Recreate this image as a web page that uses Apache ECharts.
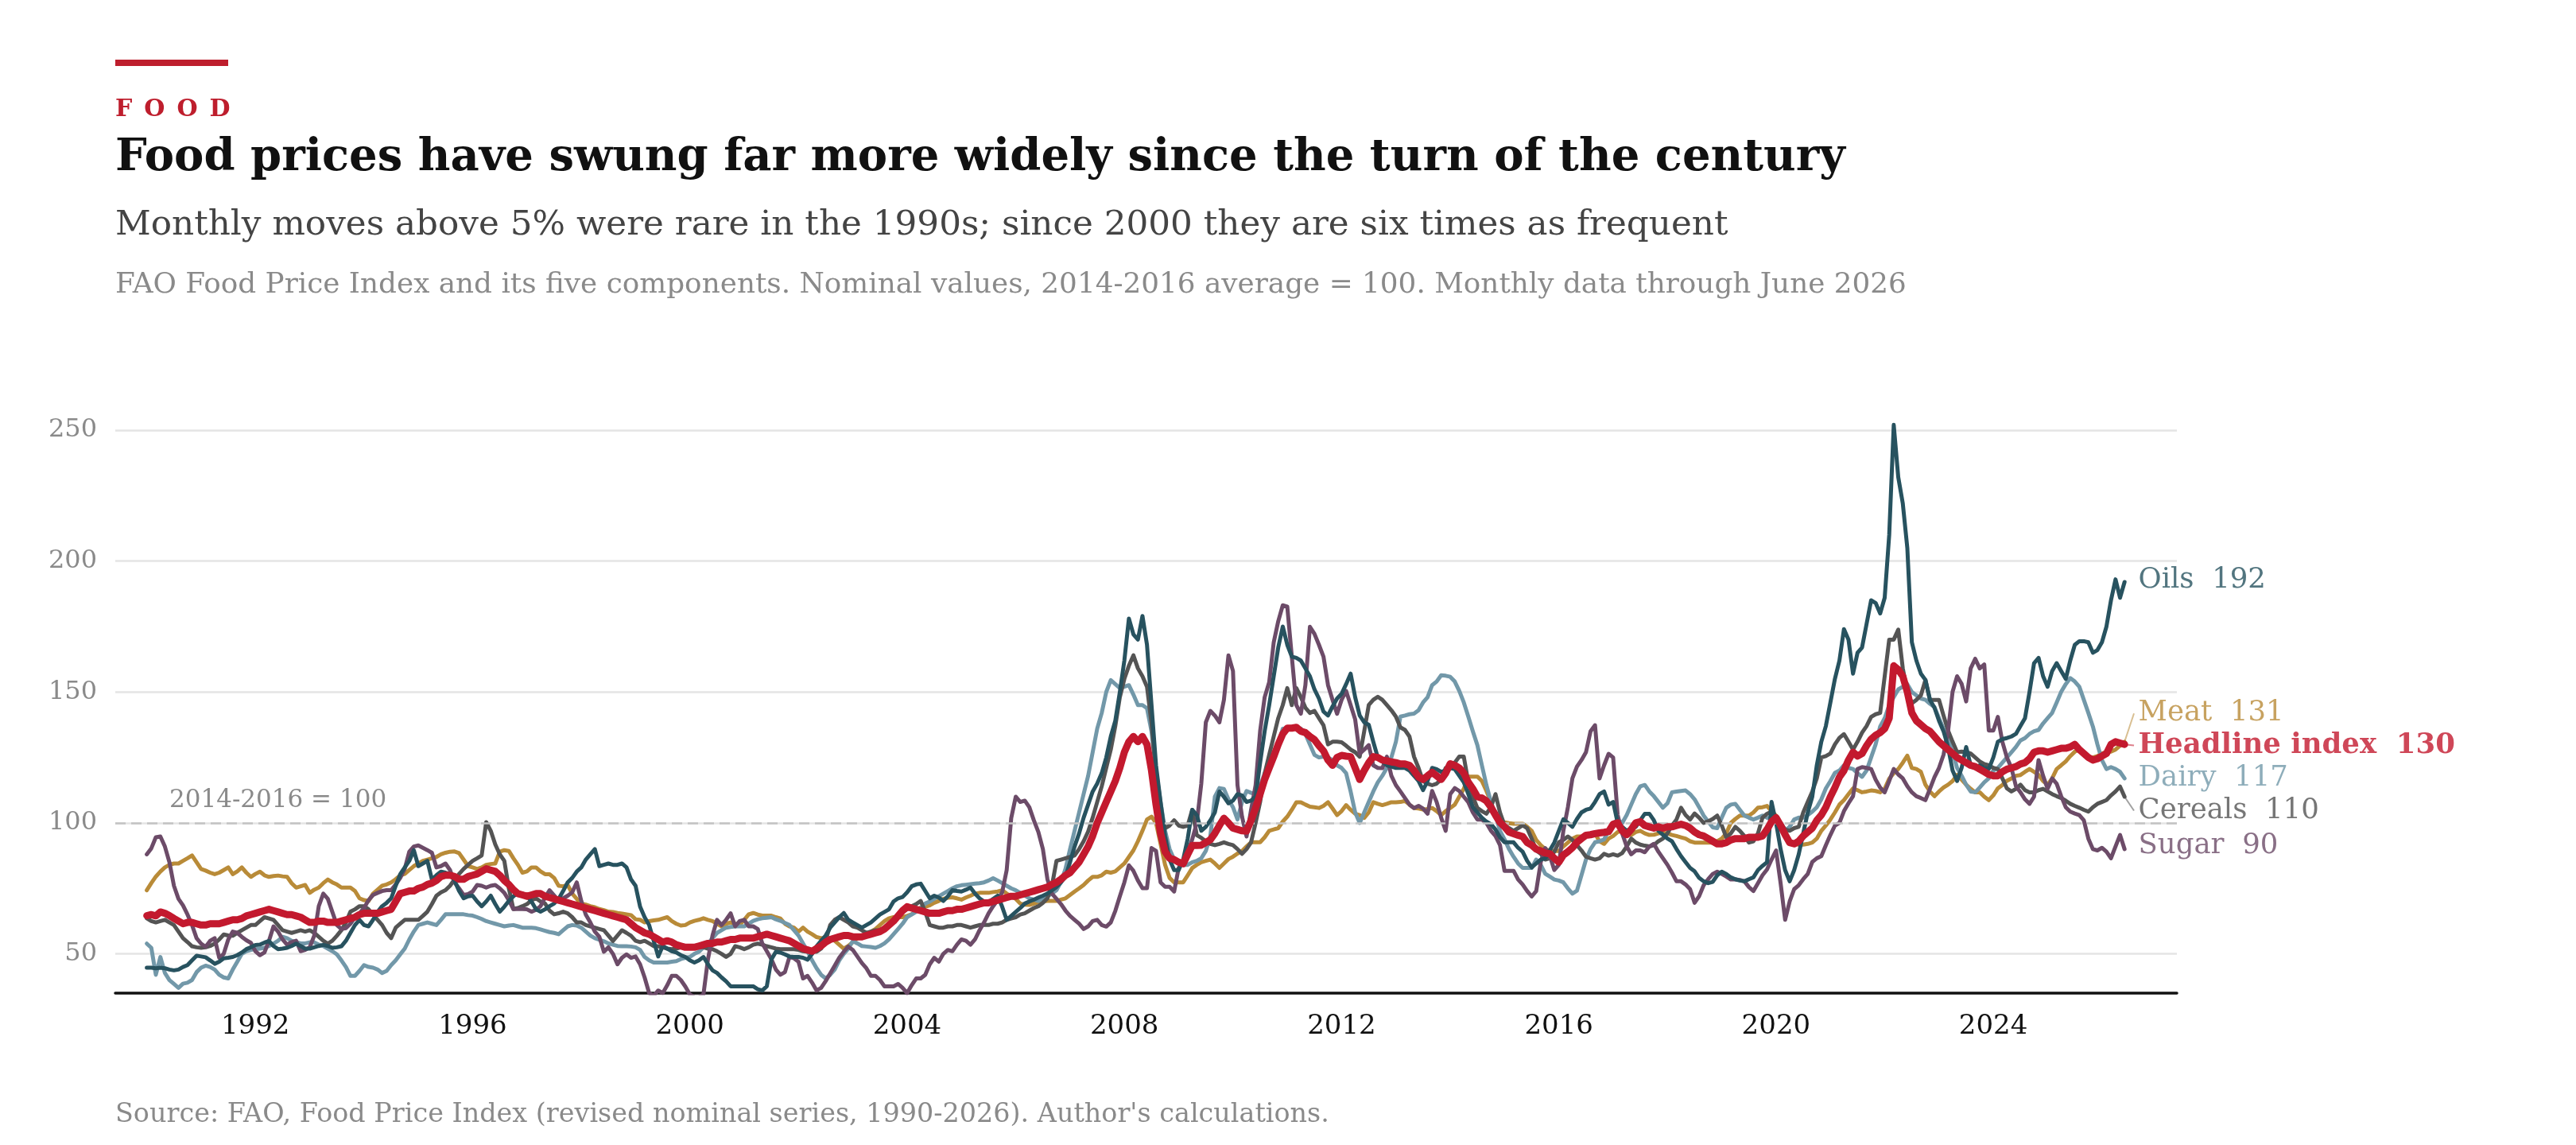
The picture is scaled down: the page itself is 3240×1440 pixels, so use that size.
<!DOCTYPE html>
<html>
<head>
<meta charset="utf-8">
<title>Food prices</title>
<script src="https://cdn.jsdelivr.net/npm/echarts@6.0.0/dist/echarts.min.js"></script>
<style>
  html, body { margin: 0; padding: 0; background: #fff; }
  #chart { width: 3240px; height: 1440px; }
</style>
</head>
<body>
<div id="chart"></div>
<script>
// monthly values, January 1990 to June 2026 (2014-2016 = 100)
const startYear = 1990;
const yearTicks = [1992, 1996, 2000, 2004, 2008, 2012, 2016, 2020, 2024];
const yTicks = [50, 100, 150, 200, 250];

const headline = [
  64.6, 65, 64.5, 66, 65.5, 64.6, 63.5, 62.5, 61.5, 62, 62, 61.5,
  61, 61, 61.5, 61.5, 61.5, 62, 62.5, 63, 63, 63.5, 64.5, 65,
  65.5, 66, 66.5, 67, 66.5, 66, 65.5, 65, 65, 64.5, 64, 63,
  62, 62, 62.5, 62.5, 62, 62, 62, 62.5, 63, 63.5, 64, 65,
  65.5, 65.5, 65.5, 65.5, 66, 66.5, 67, 70, 73, 73.5, 74, 74,
  75, 75.5, 76.5, 77, 78, 79.5, 80, 80, 79.5, 78.5, 78.5, 79.5,
  80, 80.5, 81.5, 82.5, 82, 81.5, 80, 78, 76.5, 74.5, 73, 72.5,
  72, 72.5, 73, 73, 72, 71.5, 71, 70.5, 70, 69.5, 69, 68.5,
  68, 67.5, 67, 66.5, 66, 65.5, 65, 64.5, 64, 63.5, 63, 61.5,
  60, 59, 58, 57.5, 56.5, 55.5, 54.5, 55, 54.5, 53.5, 53, 52.5,
  52.5, 52.5, 53, 53.5, 54, 54, 54.5, 54.5, 55, 55.5, 55.5, 56,
  56, 56, 56, 56.5, 57, 57.5, 57, 56.5, 56, 55.5, 55, 54,
  53, 52, 51.5, 51, 52, 53, 54.5, 55.5, 56, 56.5, 57, 57,
  56.5, 56.5, 56.5, 57, 57.5, 58, 58.5, 59.5, 61, 62.5, 64.5, 66.5,
  68, 67.5, 67, 66.5, 66, 65.5, 65.5, 65.5, 66, 66.5, 66.5, 67,
  67, 67.5, 68, 68.5, 69, 69.5, 69.5, 70, 70.5, 71, 71.5, 72,
  72, 72.5, 73, 73.5, 74, 74.5, 75, 75.5, 76.5, 77.3, 78.5, 80,
  81, 83, 85, 88, 91, 95, 100, 104, 108, 112, 116, 121,
  127, 131, 133, 131, 133, 130, 120, 107, 96, 89, 86.5, 86,
  85, 84.4, 88, 91.4, 91.4, 91.5, 92.5, 93.6, 96, 99, 101.8, 100,
  98, 97.5, 97, 96.9, 101, 105.7, 111, 116.6, 121, 125.3, 130, 134,
  136.2, 136.2, 136.5, 135, 134.5, 133, 131.8, 129.5, 127.5, 124, 122, 125,
  125.8, 125.5, 125.3, 121, 116.6, 120, 123, 125.3, 125, 124, 123.7, 123.3,
  123, 122.5, 122.5, 122, 120, 117.5, 116.6, 118, 119.3, 118, 116.6, 119,
  122.6, 122, 121, 119, 115.5, 113, 110, 109.5, 108.4, 106, 103, 100.2,
  98.5, 96.5, 95.9, 95.3, 94.8, 92.5, 91.5, 90, 89.3, 88.5, 88.2, 86.5,
  85, 87.7, 89, 90.5, 92.6, 94, 95.3, 95.5, 95.9, 96.2, 96.4, 96.7,
  99.5, 100, 97, 95.5, 97.5, 100, 100.5, 99, 98.5, 98, 98.5, 98,
  98.5, 98.5, 99, 99.5, 99, 98, 96.5, 95.5, 95, 94, 93, 92,
  92, 92.5, 93.5, 94, 94, 94, 94.5, 94.5, 94.5, 95, 97.5, 100.5,
  102, 99, 95.5, 92.5, 92, 93, 95, 96.5, 98, 101, 103, 106,
  110, 113.5, 117.5, 120, 124, 127, 125.5, 126.5, 129.5, 132, 133.5, 134.5,
  136, 140, 160, 158.5, 156, 150, 142, 139, 137.5, 136, 135, 133,
  131, 129.5, 128, 126.5, 125, 124, 123, 122, 121.5, 120.5, 119.5, 118.5,
  118, 118, 119.5, 120.5, 121, 121.5, 122.5, 123, 124.5, 127, 127.5, 127.5,
  127, 127.5, 128, 128.5, 128.5, 129, 130, 128, 126.5, 125, 124, 124.5,
  125.5, 126.5, 130, 131, 130.5, 130
];

const oils = [
  44.7, 44.7, 44.5, 44.7, 44.5, 44, 43.7, 44, 45, 45.7, 47.5, 49.3,
  49, 48.7, 47.5, 46.2, 47, 48.3, 48.5, 48.8, 49.5, 50.5, 51.8, 52.5,
  53.4, 53.5, 54.3, 54.9, 53, 51.8, 52, 52.3, 53, 53.9, 53, 52,
  52, 52.5, 53, 53.4, 53, 52.3, 52.5, 52.9, 55, 58, 61, 63,
  61, 60.5, 63, 66, 68.2, 69.5, 71.2, 76, 80.4, 83, 85.5, 89.6,
  83.5, 84.5, 85.5, 78.4, 80, 81.4, 81, 80.4, 78, 74, 71.2, 72,
  72.2, 70, 68.2, 70, 72.2, 69, 66.1, 68, 70.2, 72, 73.3, 73,
  72.2, 70, 67, 66.1, 67, 68.2, 69.2, 71, 74, 77.3, 79, 81.4,
  83, 86, 88, 90, 83.5, 84, 84.5, 84, 84, 84.5, 83, 78.4,
  76, 68, 64, 61, 55, 49, 53, 52, 51, 50.5, 49.5, 48.8,
  47.5, 46.7, 47.5, 48.8, 46, 43.7, 42.7, 41, 39.5, 37.6, 37.6, 37.6,
  37.6, 37.6, 37.6, 36.5, 36, 37.6, 47.8, 50.8, 50.5, 49.8, 49, 48.8,
  48.8, 48.5, 47.8, 50, 52.9, 55, 57, 60, 62, 64, 65.6, 63,
  62, 61, 60, 61, 62, 63.5, 65, 66, 67, 70, 71.2, 71.7,
  73.5, 75.8, 76.5, 76.8, 74, 71.2, 72.2, 71.5, 70.2, 72, 74.3, 74,
  73.8, 74.5, 75.3, 73, 71.2, 70, 69.7, 71, 72.2, 68, 63, 64.5,
  66, 67.5, 69.2, 70, 70.7, 71.5, 72.2, 73, 74.3, 75.5, 77.3, 79.5,
  85, 91, 96, 102, 107, 112, 115, 119, 125, 133, 139, 150,
  162, 178, 172, 170, 179, 168, 145, 122, 108, 95, 86, 82,
  82, 86, 94, 105, 103, 97, 98.5, 101, 104, 112, 110, 107.5,
  108.5, 111, 110.5, 108, 108.5, 110, 123, 135, 145, 156, 167, 175,
  168, 163.5, 163, 162, 159, 156, 151, 147.5, 142.5, 141, 144.5, 147.5,
  149.3, 153, 157, 148, 141, 138.4, 137.5, 131, 125, 123.5, 122, 121.5,
  121, 121, 121, 120, 118, 116, 112.5, 116, 121, 120.5, 119.5, 120,
  121, 120.5, 118, 115.5, 111, 106, 104, 102, 100.5, 99.5, 97.5, 94.5,
  92.6, 92.6, 92.6, 90.5, 89, 85.5, 83, 84.5, 86, 86.5, 89.5, 92.5,
  97, 101.4, 100, 98.5, 101.5, 104, 105, 105.5, 108, 111, 112, 107,
  108, 100, 98.5, 97, 98, 98.5, 101, 103.5, 103.5, 101, 97, 95.5,
  94, 93, 90, 87.3, 85, 82.8, 81.5, 79, 77.7, 77, 77.5, 80,
  81.4, 80.5, 79.2, 78.5, 78, 77.7, 78.5, 79.2, 82, 83.6, 85, 108,
  100, 90, 82, 77.7, 82, 88, 96, 104, 110, 122, 131, 137,
  146, 155, 162, 174, 170, 157, 165, 167, 176, 185, 184, 180,
  186, 210, 252, 232, 222, 205, 169, 162, 157, 154.6, 147, 144,
  139, 135, 129, 120, 116, 121, 129, 122, 121, 122, 121, 120.6,
  125, 131, 132, 132.4, 133, 134, 137, 140, 150, 161, 163, 156,
  152, 158, 161, 158, 155, 162, 168, 169.4, 169.4, 169, 165, 166,
  169, 175, 185, 193, 186, 192
];

const cereals = [
  63.6, 62.5, 62, 62.5, 63, 62, 61, 58.5, 56, 54.5, 52.9, 52.5,
  52.3, 52.5, 53, 53.9, 55.5, 57.4, 57, 56.9, 58, 59, 60, 61,
  61, 62.5, 64, 63.5, 63, 61, 59, 58.5, 58, 58.5, 59, 58.5,
  59, 58, 56.5, 55, 53.9, 55, 56.9, 59, 62, 66.1, 67, 68.2,
  68.2, 67, 65.1, 63, 61, 58, 56, 60, 61.5, 63, 63, 63,
  63, 64.5, 66.1, 69, 72.2, 73.5, 74.3, 76, 78.4, 80.5, 82.4, 84,
  85.5, 86.5, 87.6, 100.3, 97, 91.8, 88, 85.5, 75, 67.1, 67.5, 68.2,
  69, 70.5, 71.2, 70, 69.2, 66.5, 65.1, 65.5, 66.1, 65.5, 64, 62,
  62, 61, 60.5, 60, 59.5, 59, 57, 54.9, 57, 59, 58, 56.9,
  55, 54.5, 55, 54, 53, 52.9, 52.5, 52, 51.8, 52, 52.5, 52.9,
  52.9, 52.9, 52.5, 52.5, 52, 51.8, 51, 50, 48.8, 50, 52.9, 52.5,
  51.8, 52.5, 53.5, 53.9, 53.5, 52.9, 52.5, 52, 51.8, 51.8, 51.8, 51.8,
  51.5, 51, 50.8, 50.8, 50.8, 52, 55, 61, 63, 64, 63, 62,
  60.5, 60, 59, 58, 58.5, 59, 59, 60, 61, 62.5, 64, 66,
  67.1, 68.2, 69, 70.2, 66, 61, 60.5, 60, 60, 60.5, 60.5, 61,
  61, 60.5, 60, 60.5, 61, 61, 61, 61.5, 61.5, 62, 63, 63.5,
  64, 65, 65.5, 66.5, 67.5, 68.2, 69.5, 71.2, 76, 85.5, 86, 86.5,
  87, 87.6, 90, 93, 96.7, 102, 108, 114, 121, 128, 137, 148,
  155, 160, 164, 159, 156, 152, 138, 118, 103, 98, 99, 101,
  99, 98.5, 99, 105, 95.3, 94.3, 93, 92, 91.5, 92, 92.6, 92,
  91.5, 90, 88.2, 90, 92.6, 100, 108, 118.8, 126, 133, 140, 145,
  151.5, 145, 151.5, 148, 144, 142, 142.8, 140, 137.3, 130, 131, 131,
  130.8, 129.5, 128, 127, 125.3, 135, 145, 147, 148.2, 147, 145, 143,
  140.6, 136.5, 135.5, 133, 125.3, 121, 116, 115, 114.4, 115, 116.6, 121,
  121, 123, 125.3, 125.3, 115.5, 110, 105.7, 104.5, 103.5, 106, 111, 104,
  99.1, 98, 97, 98, 99.1, 98, 94, 89.5, 88.2, 86, 86.5, 89,
  92.6, 93.5, 94.8, 93.5, 91.5, 89.5, 87.1, 86.5, 86, 86.5, 88.2, 87.5,
  88, 87.5, 88.5, 91, 94, 92.5, 91.7, 91.3, 91, 91.5, 93, 94,
  96, 99, 101.3, 105.8, 103, 101.3, 103.6, 102, 100, 100.6, 101.5, 102.8,
  99, 94.5, 96, 98.5, 97, 95, 92.5, 93, 96, 102, 103.5, 104.3,
  102, 100, 97.5, 97, 98, 98.5, 104, 108, 112, 117, 125, 125.5,
  126.5, 130, 132.5, 133.9, 131, 128, 131, 134.5, 137, 140.5, 141.5, 142,
  156, 170, 170, 173.8, 159, 150, 145.7, 147, 148.7, 154.6, 147, 147,
  147, 141, 135.3, 131, 127, 127.2, 127, 126.5, 125, 123.5, 122.5, 122,
  121, 120.6, 117, 113.2, 112, 113, 114.6, 112.5, 111.7, 111.7, 112.5, 113,
  112, 111, 110.2, 109.5, 108.5, 107.3, 106.5, 105.8, 105, 104.3, 106, 107.3,
  108, 108.7, 110.5, 112, 113.9, 110
];

const dairy = [
  53.9, 52.3, 42, 48.8, 42.7, 40, 38.5, 37, 38.6, 39, 40, 43,
  44.7, 45.5, 45, 44, 42, 41, 40.6, 44, 47, 50, 51, 51.5,
  51.8, 52, 52.3, 53, 53.9, 55, 56.5, 56, 55, 54.5, 54, 54,
  54.4, 54.4, 53.5, 53, 52, 51, 49.8, 47.5, 45, 41.6, 41.6, 43.5,
  45.7, 45, 44.7, 44, 42.7, 43.5, 45.7, 47.5, 49.8, 52, 55.5, 58.5,
  61, 61.5, 62, 61.5, 61, 63, 65.1, 65.1, 65.1, 65.1, 65.1, 64.8,
  64.6, 64, 63.3, 62.5, 62, 61.5, 61, 60.5, 60.8, 61, 60.5, 60,
  60, 60, 59.8, 59.3, 58.8, 58.3, 58, 57.5, 59, 60.5, 61, 60.8,
  60, 58.5, 57, 56, 55.4, 54.8, 54, 53.5, 53, 52.9, 52.9, 52.8,
  52.5, 51.5, 48.8, 47.5, 46.7, 46.7, 46.7, 46.7, 47, 47.2, 48, 48.5,
  48.8, 50, 50.8, 52.5, 53.9, 56, 58, 59, 60, 60.3, 60.5, 60.5,
  60.5, 61.5, 62.6, 63.2, 63.6, 63.8, 64, 63.2, 62.6, 61.8, 61, 59,
  57, 54, 51, 47.5, 44.5, 42, 40.6, 42, 44, 47.5, 50, 52,
  54.9, 54, 53, 52.8, 52.6, 52.3, 53, 54, 55.5, 57.5, 59.5, 61.5,
  64, 65, 66.1, 67.5, 69.2, 70, 71, 72, 73, 74, 75, 75.8,
  76.2, 76.4, 76.6, 76.8, 77, 77.3, 78, 78.9, 78, 77, 76, 75,
  74.3, 73.3, 72.3, 71.2, 70.7, 70.2, 71, 72, 73, 74.3, 77.5, 82.5,
  90, 97, 104, 111, 118, 127, 136, 142, 150, 154.5, 153, 151.5,
  152, 152.6, 149, 145, 145, 143.8, 135, 120, 108, 97, 90, 86,
  84.4, 84, 84, 85, 85.5, 86.5, 89.3, 95, 110, 113.3, 113, 109,
  106, 101.3, 108, 112.2, 111.5, 111, 114, 119, 122, 125, 130, 136,
  136.2, 136.5, 136, 136, 134, 130, 126, 125, 125.3, 125, 124, 122,
  121, 119, 112, 104, 100, 104, 108, 112, 115.5, 118, 121, 125,
  131, 140.6, 141, 141.5, 141.7, 143, 146, 148, 152.6, 154, 156.4, 156.2,
  155.8, 154, 150.4, 146, 140.6, 135, 129.7, 122, 114.4, 108, 103, 97,
  93.7, 90, 87.1, 84.5, 82.8, 82.8, 82.8, 86, 84, 80.6, 79.5, 78.4,
  78, 77.3, 75, 73, 74.1, 80, 86, 90, 92.6, 93, 93.7, 97,
  100, 101, 100, 103, 107, 111, 114, 114.5, 112, 110.2, 108, 105.8,
  107.5, 111.7, 112, 112.2, 112.4, 111, 109, 106, 102.8, 100.5, 98.3, 98,
  102, 105.8, 107, 107.3, 105, 102.8, 102, 101.3, 102, 102.8, 102, 101.3,
  101.3, 99.5, 97, 98.5, 101.3, 102, 102, 103, 104.3, 106, 109, 113.2,
  116, 119.1, 120, 122, 121, 120.6, 119, 117.6, 120, 125, 130, 136.8,
  140, 145, 148, 151, 152, 153, 150, 148.7, 147.5, 147, 145.5, 144.2,
  140, 136, 132, 127, 121, 118, 114.6, 112, 111.7, 113.5, 115.5, 117,
  120, 121, 123, 125, 127, 129, 131.5, 132.4, 134, 135, 135.5, 138,
  140, 142, 146, 150.1, 153, 155.3, 154, 152, 147, 142, 136.8, 130,
  124, 120.6, 121.3, 120.6, 119.5, 117
];

const meat = [
  74.3, 77, 79.5, 81.4, 83, 84, 84.5, 84.5, 85.5, 86.5, 87.6, 85,
  82.4, 81.8, 81, 80.4, 81, 82, 83, 80.4, 81.5, 83, 81, 79.4,
  80.5, 81.4, 80, 79.4, 79.7, 79.9, 79.6, 79.4, 77, 75.3, 75.8, 76.3,
  73.3, 74.5, 75.3, 77, 78.4, 77.3, 76.5, 75.3, 75.3, 75.3, 74, 71.2,
  70.5, 70.2, 73, 74.5, 76, 76.5, 77.3, 78.5, 80, 80.5, 82, 83.5,
  84.5, 85.5, 86, 86.5, 87, 88, 88.6, 89, 89.1, 88.5, 86, 83.5,
  83, 82.4, 83, 84, 84.3, 84.5, 89, 89.6, 89.3, 86.5, 84, 81,
  81.5, 83, 83, 81.5, 80.4, 80.4, 79, 76, 75.8, 76.3, 73, 71,
  69.2, 68.8, 68.2, 67.8, 67.1, 66.7, 66.1, 66, 65.6, 65.4, 65.1, 64.8,
  63.2, 63, 62, 62.5, 62.8, 63, 63.5, 64, 62.5, 61.5, 60.8, 61,
  62, 62.6, 63, 63.6, 63, 62.5, 61.5, 60.5, 61.5, 62, 61.5, 61,
  63, 65.1, 65.6, 65, 64.6, 64.6, 64.6, 64, 63.5, 61.5, 60.5, 60,
  58.5, 60, 58.5, 57.5, 56.4, 56, 55.9, 55.9, 55, 53.5, 52, 53,
  54.5, 55.9, 56.5, 57.5, 58.5, 59.5, 61, 62.5, 63.6, 64, 64, 64,
  64.5, 65.1, 66.5, 67.7, 68, 68.5, 69.5, 70.2, 71, 71.4, 71.6, 71.2,
  70.7, 71.5, 72.2, 73, 73.3, 73.3, 73.3, 73.6, 73.8, 74.3, 73, 72,
  71, 69.2, 68.8, 68.7, 69.2, 69.7, 70, 70.2, 70.2, 70.2, 70.7, 71.2,
  72.5, 73.8, 75, 76.3, 78, 79.4, 79.4, 80, 81.4, 81, 81.5, 83,
  84.5, 87, 89.5, 93, 97, 101.3, 102.4, 100, 92, 84, 79, 77.3,
  77.3, 77.3, 80, 82.8, 84, 85, 85.5, 86, 84.5, 82.8, 84.5, 86.2,
  87.1, 88.3, 89.3, 91, 92.6, 92.6, 92.6, 94.5, 97, 97.5, 98, 100.5,
  102.4, 105, 107.9, 107.9, 107, 106.2, 106, 105.7, 106.5, 107.9, 105.5, 103,
  104.5, 106.8, 105, 103.5, 103, 101.9, 104, 107.9, 107.3, 106.8, 107.3, 107.9,
  107.9, 108, 108.4, 107, 105.7, 105.5, 105.1, 105.3, 105.7, 104.5, 103, 104.5,
  105.7, 107, 110, 113, 117.7, 117.7, 117.7, 116, 112.2, 108, 102.4, 101,
  100.2, 99.9, 99.7, 99.7, 99.7, 98.5, 97, 93.5, 91.5, 90, 89.3, 89.3,
  89.3, 91, 92.5, 94, 94.8, 94.8, 95, 95.5, 95.9, 93, 92, 94,
  95, 96.5, 97, 96, 95.4, 96.5, 97, 96, 95.4, 95.5, 96, 96.2,
  96, 95.4, 95, 94.5, 94, 93, 92.5, 92.5, 92.5, 92.5, 92.5, 93,
  94, 96, 100, 101.5, 102.8, 102.8, 102.8, 104, 105.8, 106, 106.5, 104.5,
  102.8, 100, 97, 93, 92, 91.7, 91.7, 92, 92.5, 94, 97, 99,
  101.3, 104, 107, 108.7, 111, 113.2, 112.5, 111.7, 112, 112.4, 112.2, 111.7,
  113, 116.9, 119, 120.6, 123, 125.7, 121, 120.6, 119.5, 114.6, 112, 110.2,
  112, 113.5, 114.6, 116, 118.3, 116.5, 114.6, 113, 111.7, 111.7, 110, 108.7,
  110.5, 113.2, 114.5, 116.1, 117, 118, 118.3, 119.5, 120.6, 119.5, 118.3, 116,
  114.6, 117, 120.6, 122, 123.5, 125.5, 127.2, 128, 126.5, 125, 125, 125.5,
  126.5, 127, 127.2, 128, 129.5, 131
];

const sugar = [
  88, 90.3, 94.5, 94.8, 91, 85, 76, 71, 68.5, 65, 61, 56,
  53.9, 52.7, 55, 56, 48.5, 50, 55.5, 58.5, 58, 56.5, 55.2, 54.2,
  51, 49.5, 50.5, 55, 60.5, 58.5, 55.5, 53.5, 54.5, 55, 51, 51.5,
  52.5, 57, 68.2, 73, 71, 66, 61, 59.5, 59.8, 61.5, 64, 65.5,
  67.5, 70.5, 72.5, 73.3, 74, 74.3, 74.3, 76.5, 79, 82.5, 89, 91,
  91.4, 90.5, 89.6, 88.6, 83, 83.5, 84.5, 82, 77.3, 75, 72.5, 72.8,
  73.8, 76.3, 76, 75.3, 76, 76.3, 75, 73.3, 70.5, 67.1, 67.1, 67.1,
  67, 66.1, 66.8, 68.2, 71.5, 74.3, 72.3, 70.2, 71.2, 72.2, 73.5, 77.3,
  70.2, 65, 62, 58.5, 56.5, 50.8, 52.5, 50, 46, 48.5, 49.8, 48.5,
  49, 46, 41, 35, 34, 36, 35, 38, 41.6, 41.6, 40, 37.5,
  34.5, 33.5, 33.5, 34.5, 48, 57, 63, 61, 63, 65.5, 60.5, 62.5,
  63, 60.5, 60.5, 59.5, 54, 51, 48, 44, 42, 43, 48.8, 48.3,
  47, 40.6, 41.6, 39, 36, 37, 39.6, 42.5, 45.5, 48.5, 50.8, 52.8,
  51.5, 49, 46.5, 44.5, 41.6, 41.6, 40, 37.6, 37.6, 37.6, 38.5, 37,
  35, 38, 40.6, 40.6, 42, 46, 48.5, 47, 50, 51.5, 51, 53.5,
  55.5, 55, 53.5, 55.5, 59, 62, 65.5, 68.2, 70.5, 73.5, 82, 101.8,
  110, 108, 108.5, 106, 101, 96.5, 90, 78.5, 73, 71, 69, 66.5,
  64.5, 63, 61.5, 59.5, 60.5, 62.5, 63, 61, 60.4, 62, 66.4, 72,
  77.3, 83.8, 81.7, 78, 75.1, 75.1, 90.4, 89.3, 77.3, 75.6, 75.6, 73.8,
  82.8, 85, 89, 93.7, 100, 115, 138.4, 142.8, 141, 138.4, 147, 164,
  158, 114.4, 102.4, 94.8, 105, 114.4, 135.1, 148, 153.7, 168.9, 177, 183.1,
  182.6, 163.5, 145, 141.7, 152.6, 174.9, 172.2, 168, 163.5, 152.6, 147, 141.7,
  147, 150.4, 145, 139.5, 126.4, 128, 129.7, 122, 121, 120.9, 125.3, 118,
  114.4, 112, 109.5, 107, 105.7, 106.5, 105.5, 103.5, 112.2, 108, 102, 97,
  111, 113.3, 112.2, 110, 107.9, 104, 101.3, 101.3, 100, 97, 95, 91.5,
  81.7, 81.7, 81.7, 78.4, 76.5, 74, 71.9, 74, 85, 90.4, 87.5, 82,
  84, 97, 106, 117, 121.5, 124, 127, 135, 137.3, 117, 122, 126.4,
  125, 103, 96, 91, 88, 89.5, 89.5, 88.8, 91, 92, 89, 86.5,
  84, 81, 77.7, 77.7, 76.5, 74.7, 69.5, 72, 76.2, 78.5, 80.5, 81.4,
  80.5, 79.5, 78.4, 78.4, 78.2, 77.7, 75.5, 74, 77, 80, 82.2, 86,
  89.5, 77, 63, 70, 74.7, 76.2, 78.5, 80.5, 85.1, 86.5, 87.3, 91.5,
  95.4, 99, 100, 104.5, 107.5, 110.2, 120.6, 121.3, 121, 120.6, 116.5, 113.5,
  111.7, 116, 120.6, 118.5, 117, 114, 111.7, 110.2, 109.5, 108.7, 113, 117.5,
  121, 126, 135, 150.1, 156, 153.1, 146.4, 159, 162.7, 159, 160.5, 135.3,
  135.3, 140.5, 131, 125, 121, 114, 111.7, 109, 107.3, 110, 124, 118,
  113, 117, 115, 110.2, 106, 104.3, 103.6, 103, 101, 94, 90, 89.5,
  90.5, 89, 86.5, 91, 95.4, 90
];

// drawing order: first is at the bottom
const seriesList = [
  { name: 'Meat', values: meat, color: '#b98b38', width: 5 },
  { name: 'Dairy', values: dairy, color: '#7298a9', width: 5 },
  { name: 'Cereals', values: cereals, color: '#545454', width: 5 },
  { name: 'Sugar', values: sugar, color: '#6c4b68', width: 5 },
  { name: 'Oils', values: oils, color: '#27525f', width: 5 },
  { name: 'Headline index', values: headline, color: '#c3192e', width: 9, bold: true }
];

// where each end label sits (index points) and whether it gets a leader line
const labelSpot = {
  'Oils': [192.6, false],
  'Meat': [141.8, true],
  'Headline index': [129.6, true],
  'Dairy': [117.2, false],
  'Cereals': [104.7, true],
  'Sugar': [91.3, false]
};
const labelX = 2026.59;

const FONT = '"DejaVu Serif", serif';

function toPoints(values) {
  return values.map(function (v, i) { return [startYear + i / 12, v]; });
}

const series = [];
seriesList.forEach(function (s, idx) {
  const line = {
    name: s.name,
    type: 'line',
    data: toPoints(s.values),
    showSymbol: false,
    z: idx === seriesList.length - 1 ? 5 : 3,
    lineStyle: { color: s.color, width: s.width, join: 'round', cap: 'round' },
    itemStyle: { color: s.color },
    silent: true
  };
  if (idx === 0) {
    line.markLine = {
      silent: true,
      symbol: ['none', 'none'],
      lineStyle: { color: '#c4c4c4', width: 2.5, type: [13, 7] },
      label: {
        show: true,
        position: 'insideStartTop',
        formatter: '2014-2016 = 100',
        color: '#8a8a8a',
        fontFamily: FONT,
        fontSize: 31,
        distance: 12,
        padding: [0, 0, 0, 56]
      },
      data: [{ yAxis: 100 }]
    };
  }
  series.push(line);

  const n = s.values.length;
  const endX = startYear + (n - 1) / 12;
  const last = s.values[n - 1];
  const spot = labelSpot[s.name];
  if (spot[1]) {
    series.push({
      type: 'line',
      data: [[endX, last], [labelX, spot[0]]],
      showSymbol: false,
      silent: true,
      z: 2,
      lineStyle: { color: s.color, width: 2, opacity: 0.55 }
    });
  }
  series.push({
    type: 'scatter',
    data: [[labelX, spot[0]]],
    symbolSize: 1,
    silent: true,
    itemStyle: { color: 'rgba(0,0,0,0)' },
    label: {
      show: true,
      position: 'right',
      distance: 5,
      formatter: s.name + '  ' + Math.round(last),
      color: s.color,
      fontFamily: FONT,
      fontSize: 35.5,
      fontWeight: s.bold ? 'bold' : 'normal'
    }
  });
});

const chart = echarts.init(document.getElementById('chart'));
chart.setOption({
  animation: false,
  backgroundColor: '#ffffff',
  grid: { left: 145, right: 502, top: 508, bottom: 191, containLabel: false },
  xAxis: {
    type: 'value',
    min: 1989.42,
    max: 2027.38,
    axisLine: { show: true, lineStyle: { color: '#111111', width: 3.5 } },
    axisTick: { show: false },
    splitLine: { show: false },
    axisLabel: {
      customValues: yearTicks,
      formatter: function (v) { return String(v); },
      color: '#111111',
      fontFamily: FONT,
      fontSize: 34,
      margin: 25
    }
  },
  yAxis: {
    type: 'value',
    min: 35,
    max: 260,
    splitNumber: 5,
    axisLine: { show: false },
    axisTick: { show: false },
    splitLine: {
      show: true,
      showMinLine: false,
      showMaxLine: false,
      lineStyle: { color: '#e4e4e4', width: 2.5 }
    },
    axisLabel: {
      showMinLabel: false,
      showMaxLabel: false,
      color: '#8a8a8a',
      fontFamily: FONT,
      fontSize: 32,
      margin: 23,
      formatter: function (v) { return yTicks.indexOf(v) >= 0 ? String(v) : ''; }
    }
  },
  graphic: [
    { type: 'rect', shape: { x: 145, y: 75, width: 142, height: 8 }, style: { fill: '#be1e2d' } },
    { type: 'text', style: { x: 145, y: 138, text: 'F\u2002O\u2002O\u2002D', fill: '#be1e2d',
      fontFamily: FONT, fontSize: 30, fontWeight: 'bold', verticalAlign: 'middle' } },
    { type: 'text', style: { x: 145, y: 199, text: 'Food prices have swung far more widely since the turn of the century',
      fill: '#111111', fontFamily: FONT, fontSize: 56, fontWeight: 'bold', verticalAlign: 'middle' } },
    { type: 'text', style: { x: 145, y: 284, text: 'Monthly moves above 5% were rare in the 1990s; since 2000 they are six times as frequent',
      fill: '#444444', fontFamily: FONT, fontSize: 43.7, verticalAlign: 'middle' } },
    { type: 'text', style: { x: 145, y: 359, text: 'FAO Food Price Index and its five components. Nominal values, 2014-2016 average = 100. Monthly data through June 2026',
      fill: '#8a8a8a', fontFamily: FONT, fontSize: 35.8, verticalAlign: 'middle' } },
    { type: 'text', style: { x: 145, y: 1402, text: "Source: FAO, Food Price Index (revised nominal series, 1990-2026). Author's calculations.",
      fill: '#8a8a8a', fontFamily: FONT, fontSize: 33.4, verticalAlign: 'middle' } }
  ],
  series: series
});
</script>
</body>
</html>
